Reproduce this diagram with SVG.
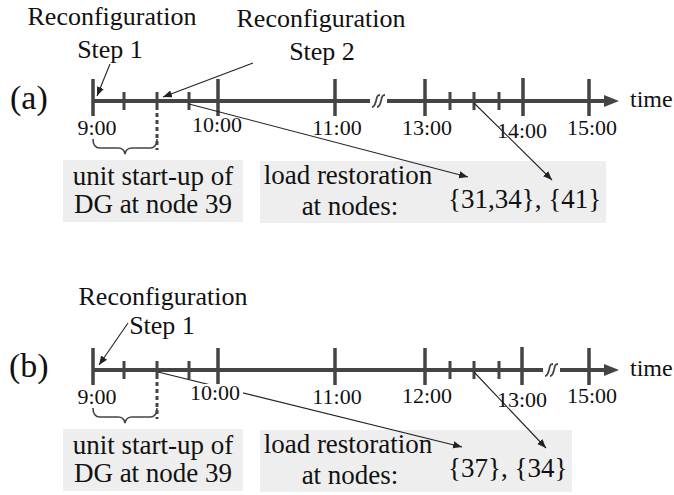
<svg xmlns="http://www.w3.org/2000/svg" width="674" height="495" viewBox="0 0 674 495">
<defs>
<style>
text{font-family:"Liberation Serif","Times New Roman",serif;fill:#111}
.big{font-size:26px}
.box{font-size:27px}
.tl{font-size:22px;text-anchor:middle}
.pl{font-size:34px}
.axis{stroke:#444;stroke-width:4;fill:none}
.maj{stroke:#444;stroke-width:3.5}
.min{stroke:#444;stroke-width:3}
.sq{stroke:#444;stroke-width:1.8;fill:none}
.ptr{stroke:#222;stroke-width:1.1;fill:none;marker-end:url(#ah)}
.gbox{fill:#eeeeee}
.dash{stroke:#444;stroke-width:3;stroke-dasharray:4 3;fill:none}
.brace{stroke:#444;stroke-width:1.6;fill:none}
</style>
<marker id="ah" viewBox="0 0 10 10" refX="10" refY="5" markerWidth="9" markerHeight="9" markerUnits="userSpaceOnUse" orient="auto"><path d="M0,1 L10,5 L0,9 z" fill="#222"/></marker>
</defs>
<rect width="674" height="495" fill="#fff"/>

<!-- Panel (a) -->
<g id="panel-a">
 <g id="a-label"><text class="pl" x="10" y="109">(a)</text></g>
 <g id="a-reconf1"><text class="big" x="112" y="25" text-anchor="middle">Reconfiguration</text><text class="big" x="110" y="58" text-anchor="middle">Step 1</text></g>
 <g id="a-reconf2"><text class="big" x="321" y="27" text-anchor="middle">Reconfiguration</text><text class="big" x="322" y="60" text-anchor="middle">Step 2</text></g>
 <g id="a-axis">
  <path class="axis" d="M93,101 H370 M387,101 H606"/>
  <polygon points="604,95 619,101 604,107" fill="#444"/>
  <path class="sq" d="M372,107 C375,107 375,104 376,101 C377,97 377,95 380,95 M377,107 C380,107 380,104 381,101 C382,97 382,95 385,95"/>
  <path class="maj" d="M93,79 V116 M218,79 V116 M335,79 V116 M425,79 V116 M523,78 V116 M589,79 V116"/>
  <path class="min" d="M124,92 V110 M157,92 V110 M189,92 V110 M450,92 V110 M474,92 V110 M499,92 V110"/>
 </g>
 <g id="a-times">
  <text class="tl" x="97" y="135">9:00</text>
  <text class="tl" x="217" y="132">10:00</text>
  <text class="tl" x="337" y="135">11:00</text>
  <text class="tl" x="427" y="135">13:00</text>
  <text class="tl" x="522" y="138">14:00</text>
  <text class="tl" x="592" y="135">15:00</text>
  <text x="630" y="107" style="font-size:24px">time</text>
 </g>
 <g id="a-startup">
  <path class="dash" d="M157,113 V150"/>
  <path class="brace" d="M93,139 Q93,148 100,148 L118,148 Q124,148 125,154 Q126,148 132,148 L150,148 Q157,148 157,139"/>
  <rect class="gbox" x="63" y="160" width="180" height="62"/>
  <text class="box" x="153" y="185" text-anchor="middle">unit start-up of</text>
  <text class="box" x="153" y="213" text-anchor="middle">DG at node 39</text>
 </g>
 <g id="a-restore">
  <rect class="gbox" x="260" y="161" width="346" height="62"/>
  <text class="box" x="348" y="184" text-anchor="middle">load restoration</text>
  <text class="box" x="350" y="215" text-anchor="middle">at nodes:</text>
  <text class="box" x="448" y="208">{31,34}, {41}</text>
 </g>
</g>

<!-- Panel (b) -->
<g id="panel-b">
 <g id="b-label"><text class="pl" x="9" y="377">(b)</text></g>
 <g id="b-reconf1"><text class="big" x="163" y="305" text-anchor="middle">Reconfiguration</text><text class="big" x="162" y="334" text-anchor="middle">Step 1</text></g>
 <g id="b-axis">
  <path class="axis" d="M93,370 H543 M560,370 H606"/>
  <polygon points="604,364 619,370 604,376" fill="#444"/>
  <path class="sq" d="M545,376 C548,376 548,373 549,370 C550,366 550,364 553,364 M550,376 C553,376 553,373 554,370 C555,366 555,364 558,364"/>
  <path class="maj" d="M93,348 V385 M218,348 V385 M335,348 V385 M425,348 V385 M522,347 V385 M589,348 V385"/>
  <path class="min" d="M124,361 V379 M157,361 V379 M189,361 V379 M450,361 V379 M474,361 V379 M499,361 V379"/>
 </g>
 <g id="b-startup">
  <path class="dash" d="M157,382 V419"/>
  <path class="brace" d="M93,408 Q93,417 100,417 L118,417 Q124,417 125,423 Q126,417 132,417 L150,417 Q157,417 157,408"/>
  <rect class="gbox" x="63" y="429" width="180" height="62"/>
  <text class="box" x="153" y="454" text-anchor="middle">unit start-up of</text>
  <text class="box" x="153" y="482" text-anchor="middle">DG at node 39</text>
 </g>
 <g id="b-restore">
  <rect class="gbox" x="260" y="430" width="312" height="62"/>
  <text class="box" x="348" y="453" text-anchor="middle">load restoration</text>
  <text class="box" x="350" y="484" text-anchor="middle">at nodes:</text>
  <text class="box" x="448" y="477">{37}, {34}</text>
 </g>
</g>

<!-- Connectors -->
<g id="connectors">
 <path class="ptr" d="M110,64 L97,96"/>
 <path class="ptr" d="M253,63 L163,97"/>
 <path class="ptr" d="M189,104 L468,177"/>
 <path class="ptr" d="M474,103 L552,180"/>
 <path class="ptr" d="M128,323 L99,365"/>
 <path class="ptr" d="M158,372 L462,447"/>
 <path class="ptr" d="M474,372 L546,448"/>
</g>

<g id="b-times">
  <text class="tl" x="97" y="404">9:00</text>
  <rect x="189" y="384" width="54" height="19" fill="#fff"/>
  <text class="tl" x="215" y="400">10:00</text>
  <text class="tl" x="337" y="404">11:00</text>
  <text class="tl" x="427" y="403">12:00</text>
  <text class="tl" x="522" y="407">13:00</text>
  <text class="tl" x="592" y="403">15:00</text>
  <text x="630" y="376" style="font-size:24px">time</text>
</g>
</svg>
